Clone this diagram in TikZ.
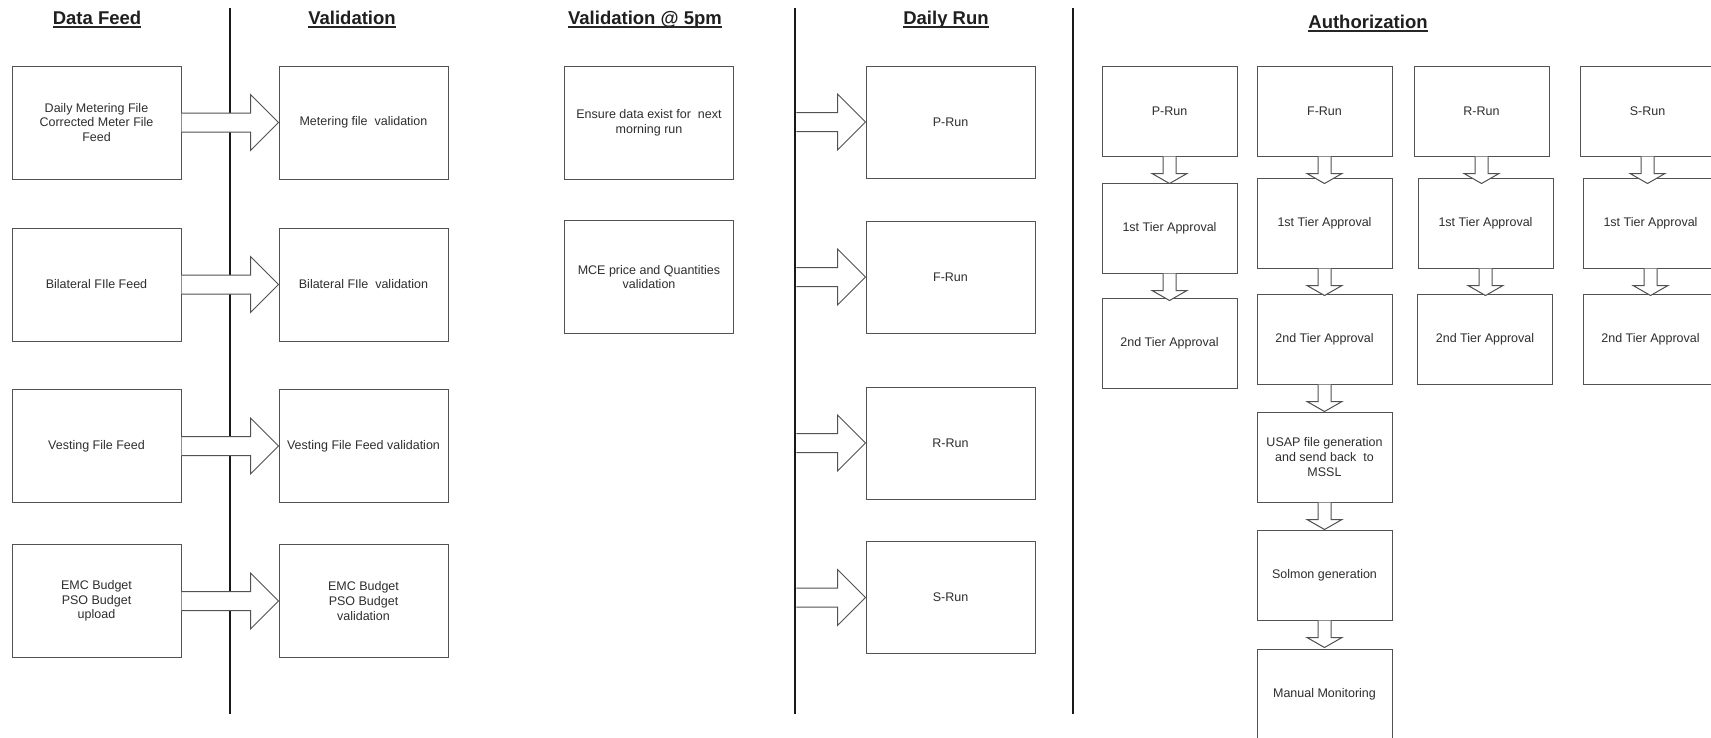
\documentclass[tikz,border=0pt]{standalone}
\usepackage{fontspec}
\setmainfont{Liberation Sans}
\usetikzlibrary{calc}
\begin{document}
\begin{tikzpicture}[x=1pt,y=-1pt,
  box/.style={draw=black!68, line width=1.0pt, fill=white, rectangle, inner sep=2pt,
    align=center, text=black!82, font=\fontsize{12.5}{14.7}\selectfont},
  feedbox/.style={box, minimum width=169pt, minimum height=113pt},
  runbox/.style={box, minimum width=169pt, minimum height=112pt},
  authbox/.style={box, minimum width=135pt, minimum height=90pt},
  divider/.style={line width=2.6pt, black!90},
  heading/.style={font=\fontsize{18.5}{22}\selectfont\bfseries, text=black!88,
    inner sep=0pt, anchor=base},
  uline/.style={line width=1.3pt, black!85},
  blockright/.style={draw=black!68, line width=1.0pt, fill=white, line join=miter,
    to path={let \p1=(\tikztostart), \p2=(\tikztotarget) in
      (\x1,\y2+9.5pt) -- (\x2-28pt,\y2+9.5pt) -- (\x2-28pt,\y2+28pt) -- (\x2,\y2)
      -- (\x2-28pt,\y2-28pt) -- (\x2-28pt,\y2-9.5pt) -- (\x1,\y2-9.5pt)}},
  blockdown/.style={draw=black!68, line width=1.0pt, fill=white, line join=miter,
    to path={let \p1=(\tikztostart) in
      (\x1-6.5pt,\y1) -- (\x1-6.5pt,\y1-17pt) -- (\x1-17.5pt,\y1-17pt) -- (\x1,\y1-27pt)
      -- (\x1+17.5pt,\y1-17pt) -- (\x1+6.5pt,\y1-17pt) -- (\x1+6.5pt,\y1)}}
]
\useasboundingbox (0,0) rectangle (1711,737);
\fill[white] (0,0) rectangle (1711,737);
\clip (0,0) rectangle (1711,737);

% column headings
\node[heading] (hDF) at (97,24.5) {Data Feed};
\node[heading] (hVal) at (352,24.5) {Validation};
\node[heading] (hV5) at (645,24.5) {Validation @ 5pm};
\node[heading] (hDR) at (946,24.5) {Daily Run};
\node[heading] (hAu) at (1368,28.5) {Authorization};
\foreach \h in {hDF,hVal,hV5,hDR,hAu}
  \draw[uline] ([yshift=-2.6pt]\h.base west) -- ([yshift=-2.6pt]\h.base east);

% separators
\coordinate (d1top) at (230,8);   \coordinate (d1bot) at (230,714);
\coordinate (d2top) at (795,8);   \coordinate (d2bot) at (795,714);
\coordinate (d3top) at (1073,8);  \coordinate (d3bot) at (1073,714);
\draw[divider] (d1top) -- (d1bot);
\draw[divider] (d2top) -- (d2bot);
\draw[divider] (d3top) -- (d3bot);

% data feed
\node[feedbox] (df1) at (96.5,122.5) {Daily Metering File\\Corrected Meter File\\Feed};
\node[feedbox] (df2) at (96.5,284.5) {Bilateral FIle Feed};
\node[feedbox] (df3) at (96.5,446) {Vesting File Feed};
\node[feedbox] (df4) at (96.5,601) {EMC Budget\\PSO Budget\\upload};

% validation
\node[feedbox] (v1) at (363.5,122.5) {Metering file~ validation};
\node[feedbox] (v2) at (363.5,284.5) {Bilateral FIle~ validation};
\node[feedbox] (v3) at (363.5,446) {Vesting File Feed validation};
\node[feedbox] (v4) at (363.5,601) {EMC Budget\\PSO Budget\\validation};

\draw[blockright] (df1.east) to (v1.west);
\draw[blockright] (df2.east) to (v2.west);
\draw[blockright] (df3.east) to (v3.west);
\draw[blockright] (df4.east) to (v4.west);

% validation at 5pm
\node[feedbox] (e1) at (649,122.5) {Ensure data exist for~ next\\morning run};
\node[feedbox] (e2) at (649,277) {MCE price and Quantities\\validation};

% daily run
\node[runbox] (dr1) at (950.5,122) {P-Run};
\node[runbox] (dr2) at (950.5,277) {F-Run};
\node[runbox] (dr3) at (950.5,443) {R-Run};
\node[runbox] (dr4) at (950.5,597.5) {S-Run};

\coordinate (tap1) at (796.3,122);
\coordinate (tap2) at (796.3,277);
\coordinate (tap3) at (796.3,443);
\coordinate (tap4) at (796.3,597.5);
\draw[blockright] (tap1) to (dr1.west);
\draw[blockright] (tap2) to (dr2.west);
\draw[blockright] (tap3) to (dr3.west);
\draw[blockright] (tap4) to (dr4.west);

% authorization chains
\node[authbox] (p0) at (1169.5,111) {P-Run};
\node[authbox] (p1) at (1169.5,228) {1st Tier Approval};
\node[authbox] (p2) at (1169.5,343.5) {2nd Tier Approval};

\node[authbox] (f0) at (1324.5,111) {F-Run};
\node[authbox] (f1) at (1324.5,223) {1st Tier Approval};
\node[authbox] (f2) at (1324.5,339) {2nd Tier Approval};
\node[authbox] (f3) at (1324.5,457) {USAP file generation\\and send back~ to\\MSSL};
\node[authbox] (f4) at (1324.5,575) {Solmon generation};
\node[authbox] (f5) at (1324.5,694) {Manual Monitoring};

\node[authbox] (r0) at (1481.5,111) {R-Run};
\node[authbox] (r1) at (1485.5,223) {1st Tier Approval};
\node[authbox] (r2) at (1485,339) {2nd Tier Approval};

\node[authbox] (s0) at (1647.5,111) {S-Run};
\node[authbox] (s1) at (1650.5,223) {1st Tier Approval};
\node[authbox] (s2) at (1650.5,339) {2nd Tier Approval};

\draw[blockdown] (p0.south) to (p1.north);
\draw[blockdown] (p1.south) to (p2.north);
\draw[blockdown] (f0.south) to (f1.north);
\draw[blockdown] (f1.south) to (f2.north);
\draw[blockdown] (f2.south) to (f3.north);
\draw[blockdown] (f3.south) to (f4.north);
\draw[blockdown] (f4.south) to (f5.north);
\draw[blockdown] (r0.south) to (r1.north);
\draw[blockdown] (r1.south) to (r2.north);
\draw[blockdown] (s0.south) to (s1.north);
\draw[blockdown] (s1.south) to (s2.north);
\end{tikzpicture}
\end{document}
